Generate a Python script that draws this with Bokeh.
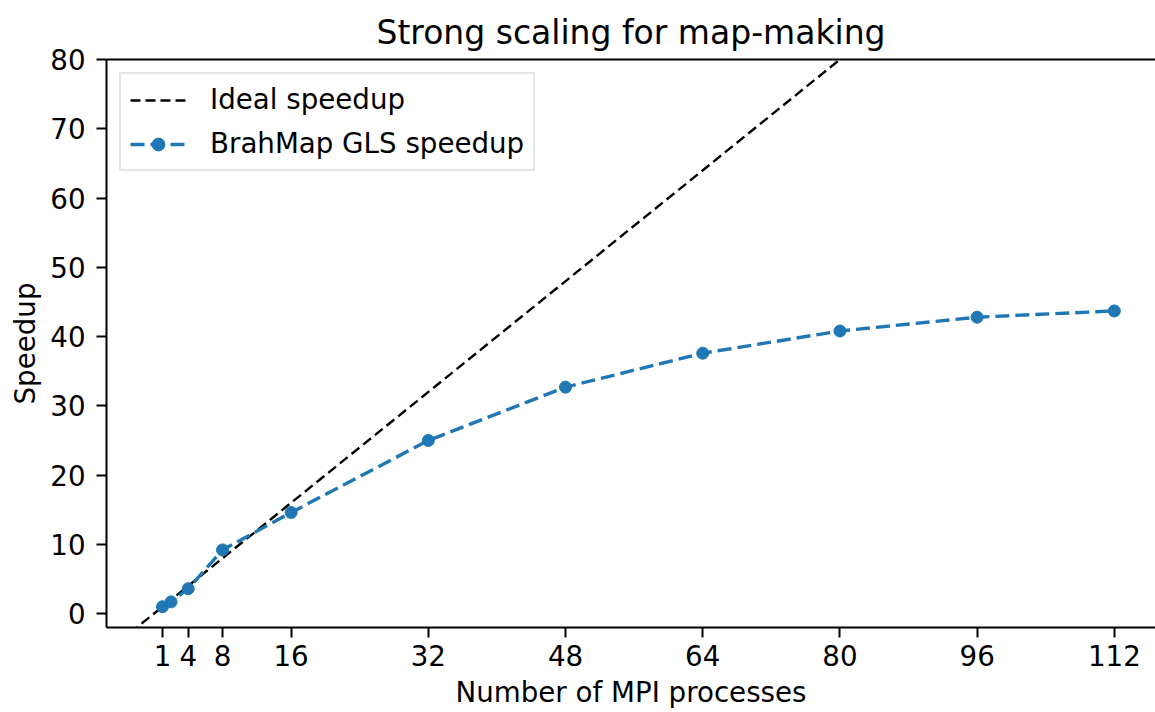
from bokeh.plotting import figure
from bokeh.models import Range1d, FixedTicker, LinearAxis, Legend, LegendItem
from bokeh.embed import file_html
from bokeh.resources import INLINE

# ---- data ----
procs = [1, 2, 4, 8, 16, 32, 48, 64, 80, 96, 112]
speedup = [1.0, 1.7, 3.6, 9.2, 14.6, 25.0, 32.7, 37.6, 40.8, 42.8, 43.7]
x_ticks = [1, 4, 8, 16, 32, 48, 64, 80, 96, 112]
y_ticks = [0, 10, 20, 30, 40, 50, 60, 70, 80]

FONT = "DejaVu Sans"
BLUE = "#1f77b4"

x_lo, x_hi = -5.53, 116.8
y_lo, y_hi = -2, 80

p = figure(width=1155, height=712, output_backend="svg", toolbar_location=None,
           x_range=Range1d(x_lo, x_hi), y_range=Range1d(y_lo, y_hi),
           min_border_left=106, min_border_right=0, min_border_top=59, min_border_bottom=85)
p.outline_line_color = None
p.grid.visible = False
p.background_fill_color = "white"
p.border_fill_color = "white"

# ideal speedup: y = x across the whole visible range
ideal_x = [x_lo, x_hi]
ideal_y = [x_lo, x_hi]
r_ideal = p.line(ideal_x, ideal_y, line_color="black", line_width=2.4, line_dash="10 5")

r_line = p.line(procs, speedup, line_color=BLUE, line_width=3.4, line_dash="14 6")
r_pts = p.scatter(procs, speedup, marker="circle", size=12, fill_color=BLUE, line_color=BLUE)

# axes
for ax in (p.xaxis[0], p.yaxis[0]):
    ax.axis_line_width = 2
    ax.axis_line_color = "black"
    ax.major_tick_line_width = 2
    ax.major_tick_line_color = "black"
    ax.major_tick_out = 10
    ax.major_tick_in = 0
    ax.minor_tick_out = 0
    ax.minor_tick_in = 0
    ax.major_label_text_font = FONT
    ax.major_label_text_font_size = "27.7px"
    ax.major_label_text_color = "black"
    ax.axis_label_text_font = FONT
    ax.axis_label_text_font_size = "27.7px"
    ax.axis_label_text_font_style = "normal"
    ax.axis_label_text_color = "black"

p.xaxis[0].ticker = FixedTicker(ticks=x_ticks)
p.yaxis[0].ticker = FixedTicker(ticks=y_ticks)
p.xaxis[0].axis_label = "Number of MPI processes"
p.yaxis[0].axis_label = "Speedup"
p.xaxis[0].major_label_standoff = 7
p.xaxis[0].axis_label_standoff = 7
p.yaxis[0].major_label_standoff = 11
p.yaxis[0].axis_label_standoff = 5

# top spine
top = LinearAxis(ticker=FixedTicker(ticks=[]), axis_line_width=2, axis_line_color="black",
                 major_tick_out=0, major_tick_in=0, minor_tick_out=0, minor_tick_in=0,
                 major_label_standoff=0, major_label_text_font_size="0px")
p.add_layout(top, "above")

# title
p.title.text = "Strong scaling for map-making"
p.title.text_font = FONT
p.title.text_font_size = "33px"
p.title.text_font_style = "normal"
p.title.text_color = "black"
p.title.align = "center"
p.title.standoff = 16

legend = Legend(items=[LegendItem(label="Ideal speedup", renderers=[r_ideal]),
                       LegendItem(label="BrahMap GLS speedup", renderers=[r_line, r_pts])],
                location="top_left")
legend.margin = 13
legend.padding = 9
legend.spacing = 11
legend.glyph_width = 56
legend.glyph_height = 32
legend.label_height = 32
legend.label_standoff = 24
legend.label_text_font = FONT
legend.label_text_font_size = "27.7px"
legend.label_text_color = "black"
legend.border_line_color = "#cccccc"
legend.border_line_width = 2
legend.background_fill_color = "white"
legend.background_fill_alpha = 0.8
p.add_layout(legend)

open("out.html", "w").write(file_html(p, INLINE))
